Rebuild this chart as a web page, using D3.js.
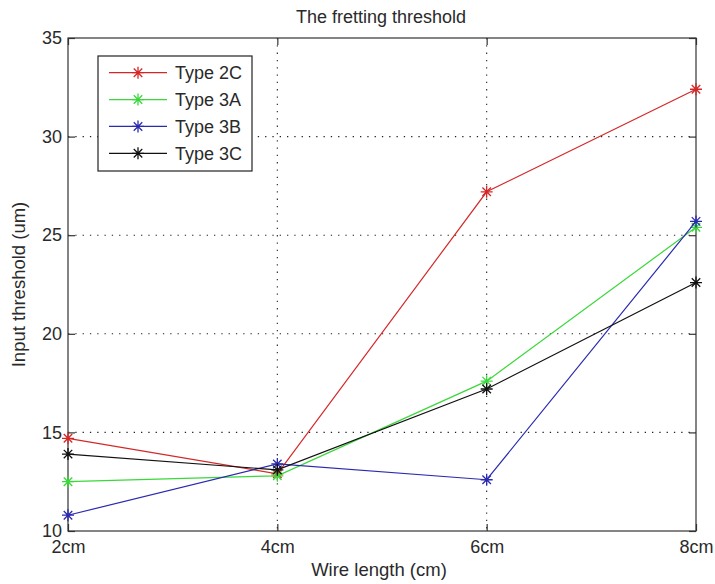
<!DOCTYPE html>
<html>
<head>
<meta charset="utf-8">
<script src="https://cdn.jsdelivr.net/npm/d3@7"></script>
<style>
  html, body { margin: 0; padding: 0; background: #fff; }
  svg { display: block; font-family: "Liberation Sans", Arial, sans-serif; }
</style>
</head>
<body>
<div id="chart"></div>
<script>
// Wire lengths tested and input thresholds per wire type
const categories = ["2cm", "4cm", "6cm", "8cm"];
const type2C = [14.7, 12.9, 27.2, 32.4];
const type3A = [12.5, 12.8, 17.6, 25.4];
const type3B = [10.8, 13.4, 12.6, 25.7];
const type3C = [13.9, 13.1, 17.2, 22.6];
const seriesNames = ["Type 2C", "Type 3A", "Type 3B", "Type 3C"];
const seriesColors = ["#d42828", "#3ad83a", "#2a2ab0", "#111111"];
const yTicks = [10, 15, 20, 25, 30, 35];

const series = [type2C, type3A, type3B, type3C].map((vals, i) => ({
  name: seriesNames[i], color: seriesColors[i],
  points: vals.map((v, j) => ({ cat: categories[j], value: v }))
}));

const W = 715, H = 584;
const plot = { left: 68, right: 696, top: 38, bottom: 531 };
const textColor = "#2a2a2a";

const svg = d3.select("#chart").append("svg")
  .attr("width", W).attr("height", H);

svg.append("rect").attr("width", W).attr("height", H).attr("fill", "#fff");

const x = d3.scalePoint().domain(categories).range([plot.left, plot.right]).padding(0);
const y = d3.scaleLinear().domain([10, 35]).range([plot.bottom, plot.top]);

// dotted grid
const grid = svg.append("g").attr("stroke", "#222").attr("stroke-width", 1.1)
  .attr("stroke-dasharray", "1.3,6").attr("fill", "none");
categories.slice(1, -1).forEach(c => {
  grid.append("line").attr("x1", x(c)).attr("x2", x(c))
    .attr("y1", plot.top).attr("y2", plot.bottom);
});
yTicks.slice(1, -1).forEach(t => {
  grid.append("line").attr("x1", plot.left).attr("x2", plot.right)
    .attr("y1", y(t)).attr("y2", y(t));
});

// axes with inward ticks on all four sides
const tickLen = 7;
function styleAxis(g) {
  g.select(".domain").remove();
  g.selectAll(".tick line").attr("stroke", "#333").attr("stroke-width", 1.2);
  g.selectAll("text").attr("fill", textColor).style("font-size", "18px")
    .style("font-family", "'Liberation Sans', Arial, sans-serif");
}
svg.append("g").attr("transform", `translate(0,${plot.bottom})`)
  .call(d3.axisBottom(x).tickSize(-tickLen).tickPadding(9))
  .call(styleAxis);
svg.append("g").attr("transform", `translate(0,${plot.top})`)
  .call(d3.axisTop(x).tickSize(-tickLen).tickFormat(""))
  .call(styleAxis);
svg.append("g").attr("transform", `translate(${plot.left},0)`)
  .call(d3.axisLeft(y).tickValues(yTicks).tickSize(-tickLen).tickPadding(6))
  .call(styleAxis);
svg.append("g").attr("transform", `translate(${plot.right},0)`)
  .call(d3.axisRight(y).tickValues(yTicks).tickSize(-tickLen).tickFormat(""))
  .call(styleAxis);

// plot frame
svg.append("rect")
  .attr("x", plot.left).attr("y", plot.top)
  .attr("width", plot.right - plot.left).attr("height", plot.bottom - plot.top)
  .attr("fill", "none").attr("stroke", "#333").attr("stroke-width", 1.2);

// asterisk marker path centred at 0,0
function asterisk(r) {
  const d = r * 0.7071;
  return `M${-r},0L${r},0M0,${-r}L0,${r}M${-d},${-d}L${d},${d}M${-d},${d}L${d},${-d}`;
}

const line = d3.line().x(d => x(d.cat)).y(d => y(d.value));

series.forEach(s => {
  const g = svg.append("g");
  g.append("path").datum(s.points).attr("d", line)
    .attr("fill", "none").attr("stroke", s.color).attr("stroke-width", 1.2);
  g.selectAll("path.mk").data(s.points).join("path").attr("class", "mk")
    .attr("transform", d => `translate(${x(d.cat)},${y(d.value)})`)
    .attr("d", asterisk(6)).attr("stroke", s.color).attr("stroke-width", 1.3)
    .attr("fill", "none");
});

// title and axis labels
svg.append("text").attr("x", (plot.left + plot.right) / 2 - 1).attr("y", 23)
  .attr("text-anchor", "middle").style("font-size", "18px").attr("fill", textColor)
  .text("The fretting threshold");
svg.append("text").attr("x", (plot.left + plot.right) / 2 - 3).attr("y", 576)
  .attr("text-anchor", "middle").style("font-size", "18.5px").attr("fill", textColor)
  .text("Wire length (cm)");
svg.append("text")
  .attr("transform", `translate(25,${(plot.top + plot.bottom) / 2}) rotate(-90)`)
  .attr("text-anchor", "middle").style("font-size", "18.5px").attr("fill", textColor)
  .text("Input threshold (um)");

// legend
const lg = svg.append("g");
lg.append("rect").attr("x", 98).attr("y", 56).attr("width", 154).attr("height", 115)
  .attr("fill", "#fff").attr("stroke", "#222").attr("stroke-width", 1.2);
const rowY = d3.scaleLinear().domain([0, 3]).range([72.7, 153.3]);
series.forEach((s, i) => {
  const yy = rowY(i);
  lg.append("line").attr("x1", 109).attr("x2", 167).attr("y1", yy).attr("y2", yy)
    .attr("stroke", s.color).attr("stroke-width", 1.2);
  lg.append("path").attr("transform", `translate(138,${yy})`).attr("d", asterisk(6))
    .attr("stroke", s.color).attr("stroke-width", 1.3).attr("fill", "none");
  lg.append("text").attr("x", 175).attr("y", yy).attr("dy", "0.36em")
    .style("font-size", "18px").attr("fill", textColor).text(s.name);
});
</script>
</body>
</html>
